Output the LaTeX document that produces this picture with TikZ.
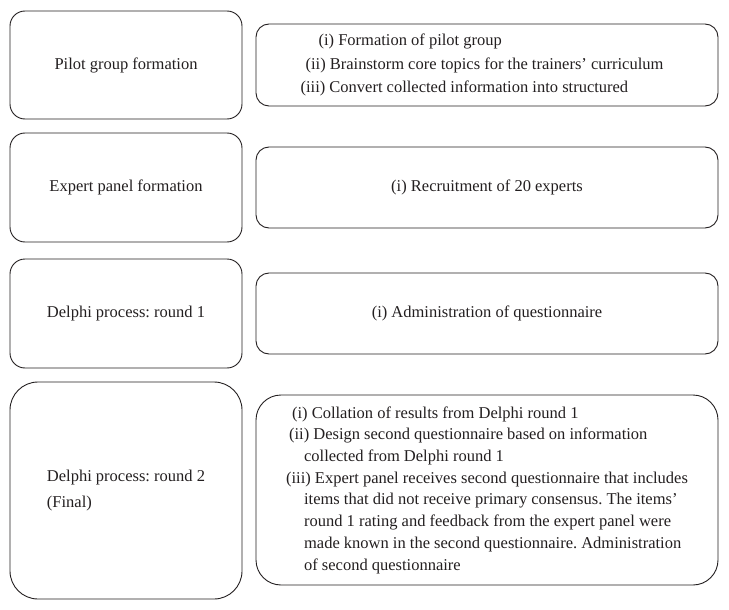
\documentclass[tikz,border=0pt]{standalone}
\usepackage{fontspec}
\setmainfont{Liberation Serif}
\frenchspacing
\definecolor{testo}{HTML}{231F20}
\tikzset{
  fase/.style={draw=testo, line width=0.9pt, rounded corners=15pt, minimum width=232pt, minimum height=108pt, text=testo, font=\fontsize{16.5}{26}\selectfont},
  attivita/.style={draw=testo, line width=0.9pt, rounded corners=13pt, minimum width=462pt, minimum height=82pt, text=testo, font=\fontsize{16.5}{23.3}\selectfont}
}
\begin{document}
\begin{tikzpicture}[x=1pt,y=-1pt]
            \useasboundingbox (0,0) rectangle (729,610);

            %fasi a sinistra
            \node[fase] (f1) at (126,65) {Pilot group formation};
            \node[fase, minimum height=109pt] (f2) at (126,187.5) {Expert panel formation};
            \node[fase, minimum height=109pt] (f3) at (126,313.5) {Delphi process: round 1};
            \node[fase, minimum height=217pt, rounded corners=28pt, align=left] (f4) at (126,490.5) {Delphi process: round 2\\(Final)};

            %attivita a destra
            \node[attivita, align=left] (a1) at (487,65) {\hspace*{18pt}(i) Formation of pilot group\\\hspace*{5pt}(ii) Brainstorm core topics for the trainers’ curriculum\kern10pt\\(iii) Convert collected information into structured};
            \node[attivita, minimum height=81pt] (a2) at (487,187.5) {(i) Recruitment of 20 experts};
            \node[attivita, minimum height=81pt] (a3) at (487,313.5) {(i) Administration of questionnaire};
            \node[attivita, minimum height=190pt, rounded corners=25pt, align=left, font=\fontsize{16.5}{21.7}\selectfont] (a4) at (487,490) {\hspace*{6pt}(i) Collation of results from Delphi round 1\\\hspace*{3pt}(ii) Design second questionnaire based on information\\\hspace*{18pt}collected from Delphi round 1\\(iii) Expert panel receives second questionnaire that includes\\\hspace*{18pt}items that did not receive primary consensus. The items’\\\hspace*{18pt}round 1 rating and feedback from the expert panel were\\\hspace*{18pt}made known in the second questionnaire. Administration\\\hspace*{18pt}of second questionnaire};
        \end{tikzpicture}
\end{document}
